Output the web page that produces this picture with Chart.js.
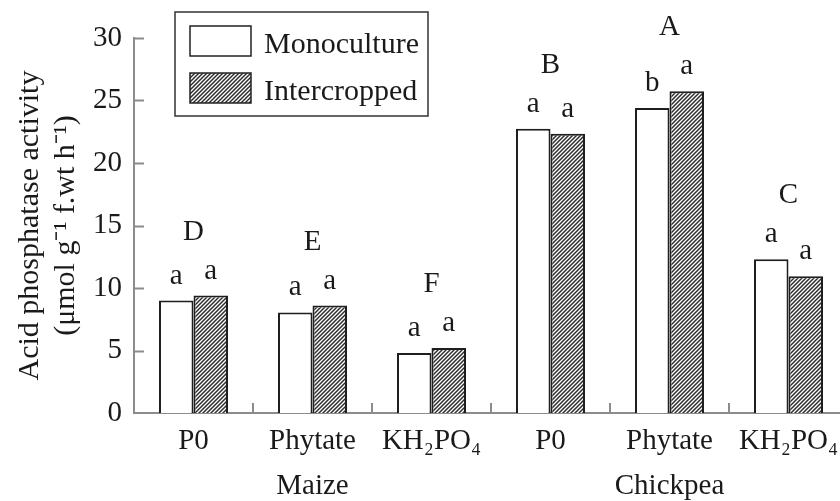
<!DOCTYPE html>
<html>
<head>
<meta charset="utf-8">
<script src="https://cdn.jsdelivr.net/npm/chart.js@4"></script>
<style>
  html, body { margin: 0; padding: 0; overflow: hidden; background: #fff; }
  #wrap { width: 860px; height: 501px; }
</style>
</head>
<body>
<div id="wrap"><canvas id="myChart" width="860" height="501"></canvas></div>
<script>
var categories = ["P0", "Phytate", "KH\u2082PO\u2084", "P0", "Phytate", "KH\u2082PO\u2084"];
var groups = ["Maize", "Chickpea"];
var monoValues = [9.0, 8.05, 4.8, 22.75, 24.4, 12.3];
var interValues = [9.4, 8.6, 5.2, 22.35, 25.75, 10.95];
var monoLetters = ["a", "a", "a", "a", "b", "a"];
var interLetters = ["a", "a", "a", "a", "a", "a"];
var groupLetters = ["D", "E", "F", "B", "A", "C"];
var yTicks = [0, 5, 10, 15, 20, 25, 30];

var serif = "'Liberation Serif', 'Times New Roman', serif";
var ink = "#1a1a1a";
var axisGrey = "#8c8c8c";

function hatch() {
  var c = document.createElement("canvas");
  c.width = 4;
  c.height = 4;
  var g = c.getContext("2d");
  g.fillStyle = "#fff";
  g.fillRect(0, 0, 4, 4);
  g.strokeStyle = "#2e2e2e";
  g.lineWidth = 1.5;
  g.beginPath();
  g.moveTo(-1, 5); g.lineTo(5, -1);
  g.moveTo(-1, 1); g.lineTo(1, -1);
  g.moveTo(3, 5); g.lineTo(5, 3);
  g.stroke();
  return g.createPattern(c, "repeat");
}

var interPattern = hatch();

// ticks, letters, group names and the boxed legend
var decor = {
  id: "decor",
  afterDraw: function (chart) {
    var ctx = chart.ctx;
    var x = chart.scales.x, y = chart.scales.y;
    var area = chart.chartArea;
    ctx.save();

    // inward ticks
    ctx.strokeStyle = axisGrey;
    ctx.lineWidth = 2;
    ctx.beginPath();
    yTicks.forEach(function (v) {
      if (v === 0) return;
      var py = Math.round(y.getPixelForValue(v)) + 0.5;
      ctx.moveTo(area.left, py);
      ctx.lineTo(area.left + 10, py);
    });
    for (var i = 0; i < categories.length - 1; i++) {
      var px = Math.round((x.getPixelForValue(i) + x.getPixelForValue(i + 1)) / 2);
      ctx.moveTo(px, area.bottom);
      ctx.lineTo(px, area.bottom - 10);
    }
    ctx.stroke();

    // significance letters
    ctx.fillStyle = ink;
    ctx.font = "29px " + serif;
    ctx.textAlign = "center";
    ctx.textBaseline = "alphabetic";
    chart.data.datasets.forEach(function (ds, d) {
      chart.getDatasetMeta(d).data.forEach(function (bar, i) {
        ctx.fillText(ds.letters[i], bar.x, bar.y - 17);
      });
    });
    groupLetters.forEach(function (t, i) {
      var top = Math.min(chart.getDatasetMeta(0).data[i].y, chart.getDatasetMeta(1).data[i].y);
      ctx.fillText(t, x.getPixelForValue(i), top - 56);
    });

    // crop names under the middle category of each group
    groups.forEach(function (g, k) {
      ctx.fillText(g, x.getPixelForValue(k * 3 + 1), 494);
    });

    // legend
    ctx.strokeStyle = "#333";
    ctx.lineWidth = 1.5;
    ctx.strokeRect(175, 12, 253, 104);
    ctx.textAlign = "left";
    ctx.font = "30px " + serif;
    chart.data.datasets.forEach(function (ds, d) {
      var top = 26 + d * 47;
      ctx.fillStyle = ds.backgroundColor;
      ctx.fillRect(190, top, 61, 30);
      ctx.strokeStyle = "#222";
      ctx.strokeRect(190, top, 61, 30);
      ctx.fillStyle = ink;
      ctx.fillText(ds.label, 264, top + 27);
    });
    ctx.restore();
  }
};

new Chart("myChart", {
  type: "bar",
  data: {
    labels: categories,
    datasets: [
      {
        label: "Monoculture",
        data: monoValues,
        letters: monoLetters,
        backgroundColor: "#fff",
        borderColor: "#1e1e1e",
        borderWidth: 2
      },
      {
        label: "Intercropped",
        data: interValues,
        letters: interLetters,
        backgroundColor: interPattern,
        borderColor: "#1e1e1e",
        borderWidth: 2
      }
    ]
  },
  options: {
    responsive: false,
    animation: false,
    events: [],
    layout: { padding: { top: 38, right: 12, left: 0, bottom: 0 } },
    datasets: { bar: { categoryPercentage: 0.58, barPercentage: 1 } },
    plugins: {
      legend: { display: false },
      tooltip: { enabled: false }
    },
    scales: {
      x: {
        grid: { display: false, drawTicks: false },
        border: { display: true, color: axisGrey, width: 2 },
        ticks: {
          color: ink,
          font: { family: serif, size: 29 },
          padding: 11,
          maxRotation: 0,
          autoSkip: false
        },
        afterFit: function (s) { s.height = 88; }
      },
      y: {
        min: 0,
        max: 30,
        afterBuildTicks: function (s) {
          s.ticks = yTicks.map(function (v) { return { value: v }; });
        },
        grid: { display: false, drawTicks: false },
        border: { display: true, color: axisGrey, width: 2 },
        ticks: {
          color: ink,
          font: { family: serif, size: 29 },
          padding: 12
        },
        title: {
          display: true,
          text: ["Acid phosphatase activity", "(\u03bcmol g\u207b\u00b9 f.wt h\u207b\u00b9)"],
          color: ink,
          font: { family: serif, size: 30, lineHeight: 1.2 },
          padding: { top: 12, bottom: 0 }
        },
        afterFit: function (s) { s.width = 134; }
      }
    }
  },
  plugins: [decor]
});
</script>
</body>
</html>
